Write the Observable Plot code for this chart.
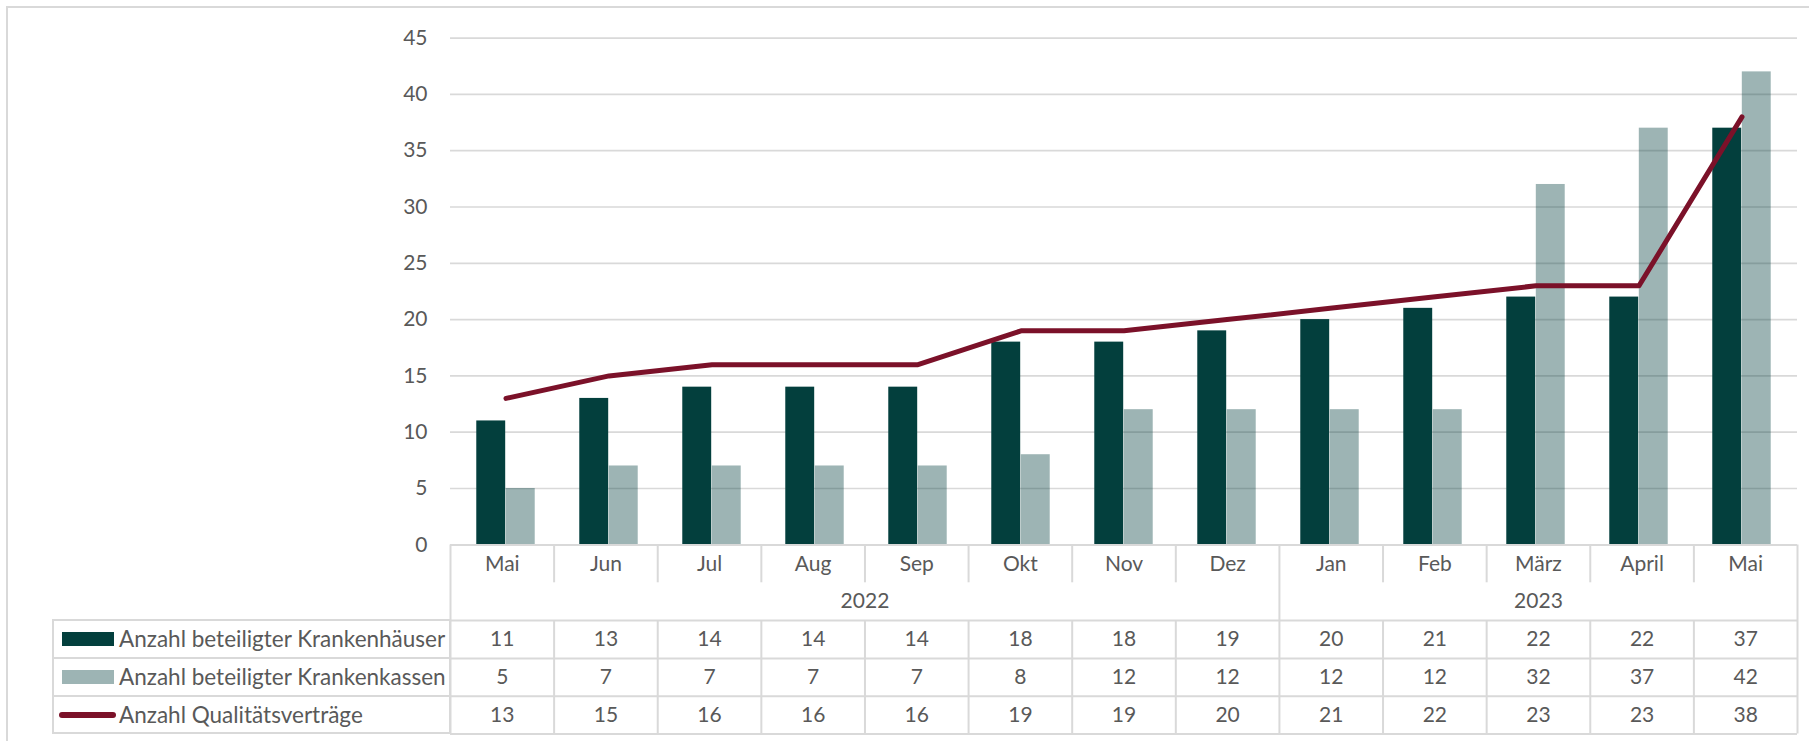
<!DOCTYPE html>
<html>
<head>
<meta charset="utf-8">
<script src="https://cdn.jsdelivr.net/npm/d3@7"></script>
<script src="https://cdn.jsdelivr.net/npm/@observablehq/plot@0.6"></script>
<style>
  html, body { margin: 0; padding: 0; background: #fff; }
  body { width: 1809px; height: 741px; position: relative; overflow: hidden; font-family: Lato, sans-serif; }
  #frame { position: absolute; left: 6px; top: 6px; right: -10px; bottom: -10px; border-top: 2px solid #D9D9D9; border-left: 2px solid #D9D9D9; }
  #chart, #table { position: absolute; left: 0; }
  #chart { top: 0; }
  #table { top: 544px; }
  #legend { position: absolute; left: 0; top: 0; }
  .legbox { position: absolute; box-sizing: border-box; border: 2px solid #D9D9D9; }
  .legline { position: absolute; height: 2px; background: #D9D9D9; }
  .sw { position: absolute; }
  .lab { position: absolute; font-family: Lato, sans-serif; font-size: 22.5px; color: #595959; white-space: nowrap; }
</style>
</head>
<body>
<div id="frame"></div>
<div id="chart"></div>
<div id="table"></div>
<div id="legend"></div>
<script>
// ---- data ----
const months = ["Mai", "Jun", "Jul", "Aug", "Sep", "Okt", "Nov", "Dez", "Jan", "Feb", "März", "April", "Mai"];
const years = ["2022", "2022", "2022", "2022", "2022", "2022", "2022", "2022", "2023", "2023", "2023", "2023", "2023"];
const krankenhaeuser = [11, 13, 14, 14, 14, 18, 18, 19, 20, 21, 22, 22, 37];
const krankenkassen = [5, 7, 7, 7, 7, 8, 12, 12, 12, 12, 32, 37, 42];
const vertraege = [13, 15, 16, 16, 16, 19, 19, 20, 21, 22, 23, 23, 38];
const yTicks = [0, 5, 10, 15, 20, 25, 30, 35, 40, 45];
const seriesNames = ["Anzahl beteiligter Krankenhäuser", "Anzahl beteiligter Krankenkassen", "Anzahl Qualitätsverträge"];

// ---- styles ----
const DARK = "#033F3D";
const LIGHT_OPACITY = 0.39;
const LINE = "#7B1129";
const GRID = "#D9D9D9";
const TEXT = "#595959";
const FONT = "Lato, sans-serif";
const FS = 21;

const keys = months.map((m, i) => years[i] + "-" + m);
const data = keys.map((k, i) => ({
  key: k, i, month: months[i], year: years[i],
  h: krankenhaeuser[i], k: krankenkassen[i], q: vertraege[i]
}));

// layout
const W = 1809, mL = 450, mR = 12;
const bw = (W - mL - mR) / keys.length;
const barW = bw * 0.285;

const chart = Plot.plot({
  width: W, height: 546,
  marginLeft: mL, marginRight: mR, marginTop: 37.6, marginBottom: 1.7,
  style: { fontFamily: FONT, fontSize: FS + "px", color: TEXT, background: "transparent", overflow: "visible" },
  x: { domain: keys, axis: null, padding: 0 },
  y: { domain: [0, 45], axis: null, label: null },
  marks: [
    Plot.ruleY(yTicks.filter(t => t > 0), { stroke: GRID, strokeWidth: 1.7 }),
    Plot.barY(data, { x: "key", y: "h", fill: DARK, insetLeft: bw / 2 - barW, insetRight: bw / 2 }),
    Plot.barY(data, { x: "key", y: "k", fill: DARK, fillOpacity: LIGHT_OPACITY, insetLeft: bw / 2, insetRight: bw / 2 - barW }),
    Plot.line(data, { x: "key", y: "q", stroke: LINE, strokeWidth: 5, strokeLinecap: "round", strokeLinejoin: "round" }),
    Plot.axisY({ ticks: yTicks, tickSize: 0, tickPadding: 23, fontSize: FS, label: null })
  ]
});
document.getElementById("chart").appendChild(chart);

// ---- table ----
const nRows = 5; // month, year, three series rows
const tableH = 190;
const rowH = (tableH - 1) / nRows;
const n = keys.length;

// year groups
const yearGroups = [];
years.forEach((y, i) => {
  const last = yearGroups[yearGroups.length - 1];
  if (last && last.year === y) last.end = i + 1;
  else yearGroups.push({ year: y, start: i, end: i + 1 });
});
const yearEdges = new Set(yearGroups.flatMap(g => [g.start, g.end]));
const vSegs = [];
d3.range(n + 1).forEach(b => {
  if (yearEdges.has(b)) vSegs.push({ x: b, y1: 0, y2: nRows });
  else { vSegs.push({ x: b, y1: 0, y2: 1 }); vSegs.push({ x: b, y1: 2, y2: nRows }); }
});
const hLines = [0, 2, 3, 4, 5];

const rowValues = [
  { row: 2, field: "h" },
  { row: 3, field: "k" },
  { row: 4, field: "q" }
];

const table = Plot.plot({
  width: W, height: tableH,
  marginLeft: mL, marginRight: mR, marginTop: 0.5, marginBottom: 0.5,
  style: { fontFamily: FONT, fontSize: FS + "px", color: TEXT, background: "transparent", overflow: "visible" },
  x: { domain: [0, n], axis: null },
  y: { domain: [0, nRows], reverse: true, axis: null },
  marks: [
    Plot.ruleY(hLines, { y: d => d, x1: 0, x2: n, stroke: GRID, strokeWidth: 2 }),
    Plot.ruleX(vSegs, { x: "x", y1: "y1", y2: "y2", stroke: GRID, strokeWidth: 2 }),
    Plot.text(data, { x: d => d.i + 0.5, y: () => 0.5, text: "month", fill: TEXT, fontSize: FS }),
    Plot.text(yearGroups, { x: d => (d.start + d.end) / 2, y: () => 1.5, text: "year", fill: TEXT, fontSize: FS }),
    ...rowValues.map(r => Plot.text(data, { x: d => d.i + 0.5, y: () => r.row + 0.5, text: d => String(d[r.field]), fill: TEXT, fontSize: FS }))
  ]
});
document.getElementById("table").appendChild(table);

// ---- legend column (HTML) ----
const legend = document.getElementById("legend");
const tableTop = 544 + 0.5;
const legTop = tableTop + 2 * rowH;
const legLeft = 52, legRight = 451;
const box = document.createElement("div");
box.className = "legbox";
Object.assign(box.style, { left: legLeft + "px", top: (legTop - 1) + "px", width: (legRight - legLeft) + "px", height: (3 * rowH + 2) + "px" });
legend.appendChild(box);
[1, 2].forEach(j => {
  const l = document.createElement("div");
  l.className = "legline";
  Object.assign(l.style, { left: legLeft + "px", top: (legTop + j * rowH - 1) + "px", width: (legRight - legLeft) + "px" });
  legend.appendChild(l);
});
seriesNames.forEach((name, j) => {
  const cy = legTop + j * rowH + rowH / 2;
  const sw = document.createElement("div");
  sw.className = "sw";
  if (j < 2) {
    Object.assign(sw.style, { left: "62px", top: (cy - 7) + "px", width: "52px", height: "14px", background: DARK, opacity: j === 1 ? LIGHT_OPACITY : 1 });
  } else {
    Object.assign(sw.style, { left: "59px", top: (cy - 3) + "px", width: "57px", height: "6px", background: LINE, borderRadius: "3px" });
  }
  legend.appendChild(sw);
  const lab = document.createElement("div");
  lab.className = "lab";
  lab.textContent = name;
  Object.assign(lab.style, { left: "119px", top: (cy - 14) + "px", lineHeight: "28px" });
  legend.appendChild(lab);
});
</script>
</body>
</html>
